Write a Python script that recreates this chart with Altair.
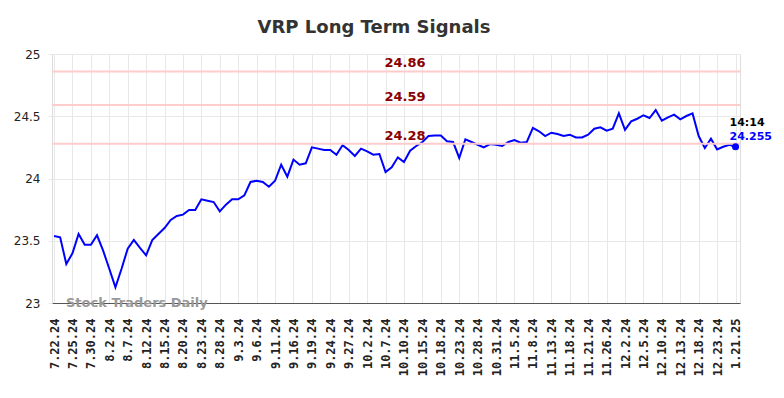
import altair as alt
import pandas as pd

values = [
    23.538, 23.528, 23.313, 23.399, 23.554, 23.468, 23.468, 23.544, 23.420, 23.275,
    23.126, 23.275, 23.436, 23.506, 23.442, 23.383, 23.506, 23.554, 23.602, 23.667,
    23.699, 23.710, 23.747, 23.747, 23.833, 23.822, 23.811, 23.736, 23.790, 23.833,
    23.833, 23.865, 23.972, 23.982, 23.972, 23.934, 23.982, 24.111, 24.015, 24.152,
    24.111, 24.122, 24.250, 24.240, 24.229, 24.229, 24.191, 24.267, 24.229, 24.181,
    24.240, 24.218, 24.191, 24.197, 24.052, 24.090, 24.170, 24.133, 24.223, 24.261,
    24.293, 24.341, 24.345, 24.345, 24.299, 24.293, 24.165, 24.315, 24.293, 24.271,
    24.250, 24.277, 24.271, 24.261, 24.293, 24.309, 24.288, 24.293, 24.406, 24.379,
    24.341, 24.368, 24.357, 24.341, 24.352, 24.330, 24.330, 24.352, 24.400, 24.411,
    24.384, 24.400, 24.523, 24.390, 24.459, 24.480, 24.508, 24.486, 24.550, 24.464,
    24.491, 24.513, 24.475, 24.502, 24.523, 24.341, 24.245, 24.320, 24.234, 24.255,
    24.271, 24.255,
]

tick_labels = [
    '7.22.24', '7.25.24', '7.30.24', '8.2.24', '8.7.24', '8.12.24', '8.15.24',
    '8.20.24', '8.23.24', '8.28.24', '9.3.24', '9.6.24', '9.11.24', '9.16.24',
    '9.19.24', '9.24.24', '9.27.24', '10.2.24', '10.7.24', '10.10.24', '10.15.24',
    '10.18.24', '10.23.24', '10.28.24', '10.31.24', '11.5.24', '11.8.24',
    '11.13.24', '11.18.24', '11.21.24', '11.26.24', '12.2.24', '12.5.24',
    '12.10.24', '12.13.24', '12.18.24', '12.23.24', '1.21.25',
]

signal_levels = [24.86, 24.59, 24.28]
signal_texts = ['24.86', '24.59', '24.28']

last_time = '14:14'
last_value_text = '24.255'

df = pd.DataFrame({'i': list(range(len(values))), 'v': values})
last_df = df.tail(1).copy()
last_df['t'] = last_time
last_df['vt'] = last_value_text
lev_df = pd.DataFrame({'lvl': signal_levels, 'txt': signal_texts})

W, H = 688, 249
tick_idx = [3 * k for k in range(len(tick_labels))]
lab_arr = '[' + ','.join("'" + s + "'" for s in tick_labels) + ']'
label_expr = lab_arr + '[round(datum.value/3)]'

xscale = alt.Scale(domain=[-0.33, len(values) - 1 + 0.73], nice=False, zero=False)
yscale = alt.Scale(domain=[23, 25], nice=False, zero=False)

x_axis = alt.Axis(
    values=tick_idx, labelExpr=label_expr, title=None, labelAngle=270,
    labelFont='DejaVu Sans Mono', labelFontWeight='bold', labelFontSize=12,
    labelColor='#222222', labelPadding=15, ticks=False, labelOverlap=False,
    grid=True, gridColor='#e8e8e8', domainColor='#555555', domainWidth=1,
    labelAlign='right', labelBaseline='middle', labelBound=False
)
y_axis = alt.Axis(
    values=[23, 23.5, 24, 24.5, 25], format='~g', title=None,
    labelFont='DejaVu Sans', labelFontSize=12, labelColor='#222222',
    grid=True, gridColor='#e8e8e8', domain=False, ticks=True, tickColor='#e8e8e8',
    tickSize=4, labelPadding=8
)

X = alt.X('i:Q', scale=xscale, axis=x_axis)
Y = alt.Y('v:Q', scale=yscale, axis=y_axis)
YL = alt.Y('lvl:Q', scale=yscale, axis=y_axis)

line = alt.Chart(df).mark_line(color='#0000ff', strokeWidth=2).encode(x=X, y=Y)

rules = alt.Chart(lev_df).mark_rule(color='#ffcccc', strokeWidth=2).encode(y=YL)

rule_text = alt.Chart(lev_df).mark_text(
    color='#8b0000', fontWeight='bold', fontSize=13, font='DejaVu Sans',
    baseline='bottom', dy=-1
).encode(x=alt.value(353), y=YL, text='txt:N')

dot = alt.Chart(last_df).mark_circle(color='#0000ff', size=50, opacity=1).encode(x=X, y=Y)
t1 = alt.Chart(last_df).mark_text(
    color='#000000', fontWeight='bold', fontSize=11, font='DejaVu Sans',
    align='left', baseline='middle', dx=-6, dy=-24
).encode(x=X, y=Y, text='t:N')
t2 = alt.Chart(last_df).mark_text(
    color='#0000ff', fontWeight='bold', fontSize=11, font='DejaVu Sans',
    align='left', baseline='middle', dx=-6, dy=-10
).encode(x=X, y=Y, text='vt:N')

wm = alt.Chart(pd.DataFrame({'w': ['Stock Traders Daily']})).mark_text(
    color='#999999', fontWeight='bold', fontSize=13, font='DejaVu Sans',
    align='left', baseline='middle'
).encode(x=alt.value(14), y=alt.value(H), text='w:N')

chart = alt.layer(line, rules, rule_text, wm, dot, t1, t2).properties(
    width=W, height=H,
    title=alt.TitleParams('VRP Long Term Signals', fontSize=18, font='DejaVu Sans',
                          fontWeight='bold', color='#333333', anchor='middle',
                          dx=-22, offset=11),
    autosize=alt.AutoSizeParams(type='none'),
    padding={'left': 44, 'top': 46, 'right': 36, 'bottom': 87},
).configure_view(stroke=None).configure_axis(labelOverlap=False).configure(background='#ffffff')

chart.save('out.html', embed_options={'renderer': 'svg', 'actions': False})
